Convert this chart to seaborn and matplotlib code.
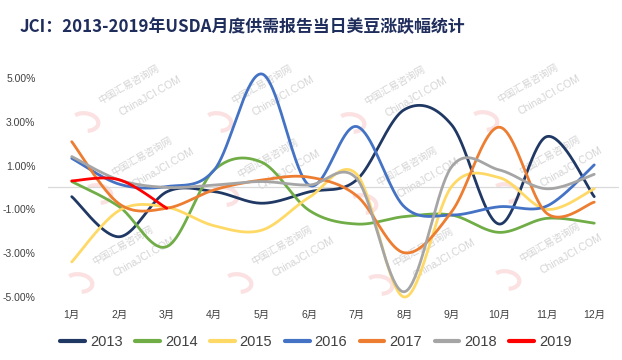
import numpy as np
import pandas as pd
import matplotlib
matplotlib.use("Agg")
import matplotlib.pyplot as plt
import seaborn as sns
from matplotlib.lines import Line2D
from matplotlib.patches import Arc

months = ["1月", "2月", "3月", "4月", "5月", "6月", "7月", "8月", "9月", "10月", "11月", "12月"]
v2013 = [-0.42, -2.25, -0.20, -0.19, -0.72, -0.20, 0.35, 3.55, 2.85, -1.67, 2.32, -0.42]
v2014 = [0.27, -0.88, -2.70, 0.80, 1.15, -1.05, -1.67, -1.33, -1.26, -2.05, -1.41, -1.63]
v2015 = [-3.40, -1.05, -0.90, -1.75, -1.95, -0.45, 0.60, -5.00, 0.05, 0.45, -1.00, -0.06]
v2016 = [1.33, 0.15, 0.04, 0.80, 5.18, 0.10, 2.78, -0.88, -1.26, -0.88, -0.85, 1.03]
v2017 = [2.09, -0.75, -0.95, -0.11, 0.34, 0.47, -0.38, -2.98, -1.10, 2.75, -1.18, -0.67]
v2018 = [1.41, 0.34, 0.00, 0.11, 0.27, 0.11, 0.40, -4.76, 0.95, 0.80, -0.06, 0.60]
v2019 = [0.30, 0.35, -0.95]
years = ["2013", "2014", "2015", "2016", "2017", "2018", "2019"]
series = [v2013, v2014, v2015, v2016, v2017, v2018, v2019]
colors = ["#203864", "#70AD47", "#FFD966", "#4472C4", "#ED7D31", "#A5A5A5", "#FF0000"]
yticks = [-5, -3, -1, 1, 3, 5]
ytick_labels = ["-5.00%", "-3.00%", "-1.00%", "1.00%", "3.00%", "5.00%"]


def smooth(xs, ys, n=40):
    P = np.column_stack([xs, ys]).astype(float)
    Pm = np.vstack([P[0], P, P[-1]])
    out = []
    for i in range(len(P) - 1):
        p0, p3 = P[i], P[i + 1]
        c1 = p0 + (Pm[i + 2] - Pm[i]) / 6.0
        c2 = p3 - (Pm[i + 3] - Pm[i + 1]) / 6.0
        t = np.linspace(0, 1, n)[:, None]
        if i < len(P) - 2:
            t = t[:-1]
        B = ((1 - t) ** 3) * p0 + 3 * ((1 - t) ** 2) * t * c1 + 3 * (1 - t) * t ** 2 * c2 + t ** 3 * p3
        out.append(B)
    return np.vstack(out)


frames = []
for yr, vals in zip(years, series):
    xs = np.arange(1, len(vals) + 1)
    pts = smooth(xs, vals)
    frames.append(pd.DataFrame({"x": pts[:, 0], "y": pts[:, 1], "year": yr}))
df = pd.concat(frames, ignore_index=True)

sns.set_theme(style="white")
plt.rcParams["font.family"] = ["Liberation Sans", "Noto Sans CJK SC", "DejaVu Sans"]

fig = plt.figure(figsize=(6.22, 3.6), dpi=100)
ax = fig.add_axes([48 / 622, 63 / 360, 570 / 622, 241 / 360])

# watermarks
wm_cn = [(129, 84), (262, 84), (395, 85), (528, 83),
         (142, 156), (268, 158), (407, 166), (550, 155),
         (123, 245), (282, 245), (423, 247), (550, 242)]
for (px, py) in wm_cn:
    fig.text(px / 622, 1 - py / 360, "中国汇易咨询网", fontsize=7, color="#d4d4d4",
             rotation=30, ha="center", va="center", family=["Noto Sans CJK SC"], zorder=-1)
    fig.text((px + 21) / 622, 1 - (py + 12) / 360, "ChinaJCI.COM", fontsize=7.5, color="#d4d4d4",
             rotation=30, ha="center", va="center", zorder=-1)
    lx, ly = px - 44, py + 38
    fig.patches.append(Arc((lx / 622, 1 - ly / 360), 26 / 622, 18 / 360, angle=20,
                           theta1=-100, theta2=110, color="#fbe1e1", lw=3,
                           transform=fig.transFigure, zorder=-1))

ax.axhline(0, color="#d9d9d9", lw=0.9, zorder=1)

sns.lineplot(data=df, x="x", y="y", hue="year", palette=dict(zip(years, colors)),
             sort=False, estimator=None, units="year", linewidth=2.0, ax=ax, legend=False, zorder=3)
for line in ax.get_lines():
    line.set_clip_on(False)
    line.set_solid_capstyle("round")

ax.set_xlim(0.5, 12.5)
ax.set_ylim(-5, 6)
ax.set_xticks(range(1, 13))
ax.set_xticklabels(months)
ax.set_yticks(yticks)
ax.set_yticklabels(ytick_labels)
ax.tick_params(axis="x", length=0, pad=9, labelsize=7.5, labelcolor="#404040")
ax.tick_params(axis="y", length=0, pad=9, labelsize=7.5, labelcolor="#404040")
ax.set_xlabel("")
ax.set_ylabel("")
for s in ax.spines.values():
    s.set_visible(False)
ax.patch.set_alpha(0)

handles = [Line2D([0], [0], color=c, lw=3) for c in colors]
fig.legend(handles, years, loc="center", bbox_to_anchor=(316 / 622, 1 - 342 / 360), ncol=7,
           frameon=False, fontsize=10.5, handlelength=1.7, handletextpad=0.35, columnspacing=0.85,
           labelcolor="#404040")

fig.text(20 / 622, 1 - 27 / 360, "JCI：2013-2019年USDA月度供需报告当日美豆涨跌幅统计",
         fontsize=12.2, fontweight="bold", color="#1F2D5C", ha="left", va="center",
         family=["Noto Sans CJK SC"])

fig.savefig("out.png", dpi=100, facecolor="white")
